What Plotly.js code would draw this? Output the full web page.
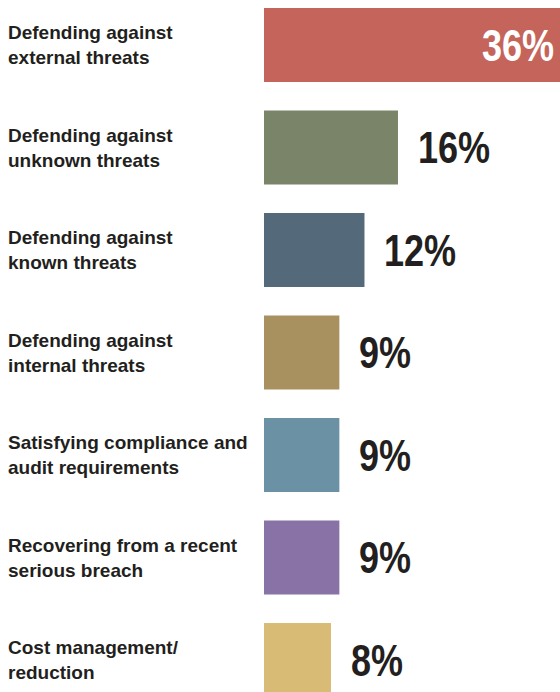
<!DOCTYPE html>
<html>
<head>
<meta charset="utf-8">
<script src="https://cdn.plot.ly/plotly-3.0.1.min.js"></script>
<style>html,body{margin:0;padding:0;background:#fff;}#chart{width:560px;height:692px;}</style>
</head>
<body>
<div id="chart"></div>
<script>
const categories = [
  "Defending against<br>external threats",
  "Defending against<br>unknown threats",
  "Defending against<br>known threats",
  "Defending against<br>internal threats",
  "Satisfying compliance and<br>audit requirements",
  "Recovering from a recent<br>serious breach",
  "Cost management/<br>reduction"
];
const values = [36, 16, 12, 9, 9, 9, 8];
const valueLabels = ["36%", "16%", "12%", "9%", "9%", "9%", "8%"];
const colors = ["#C5645A", "#7A8469", "#546A7B", "#A9915F", "#6B91A5", "#8872A6", "#D8BC76"];

const idx = categories.map((_, i) => i);

const trace = {
  type: "bar",
  orientation: "h",
  x: values,
  y: idx,
  width: 0.72,
  marker: {color: colors, line: {width: 0}},
  hoverinfo: "skip"
};

const labelFont = {family: "Liberation Sans, Arial, sans-serif", size: 19, color: "#231F20", weight: 700};
const valueFont = {family: "Liberation Sans, Arial, sans-serif", size: 45, weight: 700};

const annotations = [];
categories.forEach((c, i) => {
  annotations.push({
    xref: "paper", yref: "y", x: -0.872, y: i,
    xanchor: "left", yanchor: "middle", align: "left",
    text: c, showarrow: false, font: labelFont
  });
  const inside = i === 0;
  annotations.push(inside ? {
    xref: "paper", yref: "y", x: 1, y: i,
    xanchor: "right", yanchor: "middle", align: "right",
    xshift: -4,
    text: valueLabels[i], showarrow: false,
    font: Object.assign({}, valueFont, {color: "#FFFFFF"})
  } : {
    xref: "x", yref: "y", x: values[i], y: i,
    xanchor: "left", yanchor: "middle", align: "left",
    xshift: 18,
    text: valueLabels[i], showarrow: false,
    font: Object.assign({}, valueFont, {color: "#231F20"})
  });
});

const layout = {
  width: 560, height: 692,
  margin: {l: 264, r: 0, t: 0, b: 0},
  paper_bgcolor: "#FFFFFF", plot_bgcolor: "#FFFFFF",
  showlegend: false,
  xaxis: {range: [0, 35.35], visible: false, fixedrange: true},
  yaxis: {range: [6.312, -0.439], visible: false, fixedrange: true},
  annotations: annotations
};

Plotly.newPlot("chart", [trace], layout, {staticPlot: true, displayModeBar: false}).then(gd => {
  // condense the big value labels horizontally (the original uses a condensed face)
  gd.querySelectorAll(".annotation-text").forEach(t => {
    if (parseFloat(window.getComputedStyle(t).fontSize) === 45) {
      const len = t.getComputedTextLength();
      t.setAttribute("textLength", (len * 0.8).toFixed(1));
      t.setAttribute("lengthAdjust", "spacingAndGlyphs");
    }
  });
});
</script>
</body>
</html>
